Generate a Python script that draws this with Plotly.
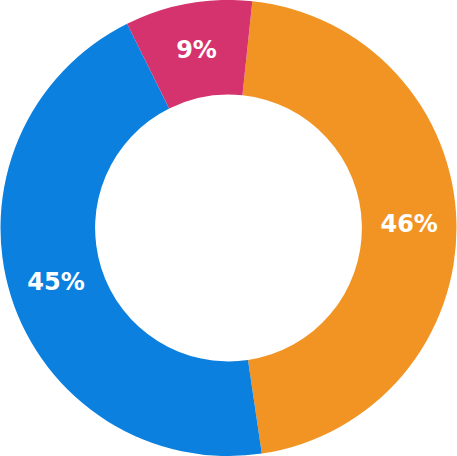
import plotly.graph_objects as go

labels = ["Orange", "Blue", "Pink"]
values = [46, 45, 9]
colors = ["#F29424", "#0B80DF", "#D5336E"]

fig = go.Figure(go.Pie(
    labels=labels,
    values=values,
    hole=0.585,
    sort=False,
    direction="clockwise",
    rotation=6,
    marker=dict(
        colors=colors,
        line=dict(width=0),
    ),
    texttemplate="%{percent:.0%}",
    textposition="inside",
    insidetextorientation="horizontal",
    textfont=dict(family="DejaVu Sans", size=24, color="#ffffff", weight=700),
    showlegend=False,
    hoverinfo="label+percent",
))

fig.update_layout(
    width=457, height=456,
    margin=dict(l=0, r=0, t=0, b=0),
    paper_bgcolor="#ffffff",
    plot_bgcolor="#ffffff",
    uniformtext=dict(mode="show", minsize=24),
)

fig.write_html("out.html", config={"displayModeBar": False},
               post_script="document.body.style.margin='0';")
